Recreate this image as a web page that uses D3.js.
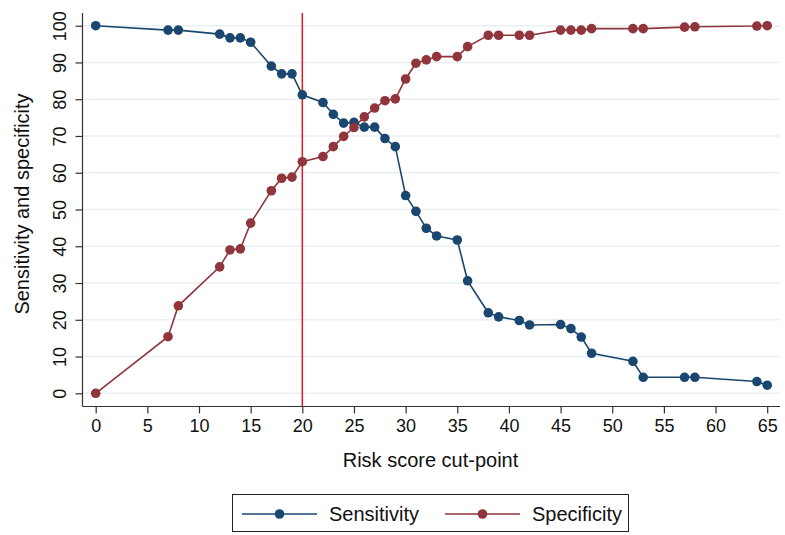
<!DOCTYPE html>
<html><head><meta charset="utf-8">
<script src="https://cdn.jsdelivr.net/npm/d3@7"></script>
<style>body{margin:0;background:#fff}svg{display:block}text{font-family:"Liberation Sans",Arial,sans-serif;fill:#111}</style>
</head><body>
<svg id="c" width="785" height="535"></svg>
<script>
const cutPoints = [0,7,8,12,13,14,15,17,18,19,20,22,23,24,25,26,27,28,29,30,31,32,33,35,36,38,39,41,42,45,46,47,48,52,53,57,58,64,65];
const sensitivity = [100,98.8,98.8,97.7,96.7,96.7,95.5,89.0,86.9,86.9,81.2,79.1,75.9,73.5,73.7,72.4,72.4,69.3,67.1,53.8,49.5,44.9,42.8,41.7,30.6,21.9,20.8,19.8,18.6,18.7,17.6,15.3,10.9,8.7,4.35,4.35,4.35,3.2,2.2];
const specificity = [0,15.4,23.8,34.4,39.0,39.3,46.3,55.1,58.5,58.8,63.0,64.4,67.1,69.9,72.3,75.2,77.6,79.6,80.1,85.5,89.8,90.7,91.6,91.6,94.3,97.4,97.4,97.4,97.4,98.8,98.8,98.8,99.2,99.2,99.2,99.6,99.7,99.9,100];
const xTicks = [0,5,10,15,20,25,30,35,40,45,50,55,60,65];
const yTicks = [0,10,20,30,40,50,60,70,80,90,100];
const cutLine = 20;
const seriesNames = ["Sensitivity","Specificity"];
const colors = ["#1a476f","#90353b"];

(function(){
const svg = d3.select("#c");
const x = d3.scaleLinear().domain([0,65]).range([95.7,767.2]);
const y = d3.scaleLinear().domain([0,100]).range([393.3,25.7]);
const pL = 82.5, pR = 780, pB = 406.5, pT = 13;
const FF = "Liberation Sans, Arial, sans-serif";

// gridlines
svg.append("g").selectAll("line").data(yTicks).join("line")
  .attr("x1",pL).attr("x2",pR).attr("y1",d=>y(d)).attr("y2",d=>y(d))
  .attr("stroke","#e8f0f2").attr("stroke-width",1.5);

// axes
const xa = svg.append("g").attr("transform",`translate(0,${pB})`)
  .call(d3.axisBottom(x).tickValues(xTicks).tickSize(7).tickSizeOuter(0));
xa.select(".domain").attr("d",`M${pL},0H${pR}`).attr("stroke","#333").attr("stroke-width",1.2);
xa.selectAll(".tick line").attr("stroke","#333").attr("stroke-width",1.2);
xa.selectAll(".tick text").attr("font-size",18).attr("font-family",FF).attr("fill","#111")
  .attr("y",25.5).attr("dy",0);

const ya = svg.append("g").attr("transform",`translate(${pL},0)`)
  .call(d3.axisLeft(y).tickValues(yTicks).tickSize(7).tickSizeOuter(0));
ya.select(".domain").attr("d",`M0,${pT}V${pB}`).attr("stroke","#333").attr("stroke-width",1.2);
ya.selectAll(".tick line").attr("stroke","#333").attr("stroke-width",1.2);
ya.selectAll(".tick text").attr("font-size",18).attr("font-family",FF).attr("fill","#111")
  .attr("x",0).attr("y",0).attr("dy",0).attr("text-anchor","middle")
  .attr("transform",`translate(${66-pL},0) rotate(-90)`);

// axis titles
svg.append("text").attr("x",430.5).attr("y",467).attr("text-anchor","middle").attr("font-size",20).text("Risk score cut-point");
svg.append("text").attr("transform",`translate(28.5,204) rotate(-90)`).attr("text-anchor","middle").attr("font-size",20).text("Sensitivity and specificity");

// series
const seriesData = [sensitivity, specificity];
const line = d3.line().x(d=>x(d[0])).y(d=>y(d[1]));
seriesData.forEach((vals,i)=>{
  const pts = cutPoints.map((c,j)=>[c,vals[j]]);
  svg.append("path").datum(pts).attr("d",line).attr("fill","none").attr("stroke",colors[i]).attr("stroke-width",1.6);
});
// red cut line
svg.append("line").attr("x1",x(cutLine)).attr("x2",x(cutLine)).attr("y1",pT).attr("y2",pB).attr("stroke","#e0162b").attr("stroke-width",1.5);
seriesData.forEach((vals,i)=>{
  const pts = cutPoints.map((c,j)=>[c,vals[j]]);
  svg.append("g").selectAll("circle").data(pts).join("circle")
    .attr("cx",d=>x(d[0])).attr("cy",d=>y(d[1])).attr("r",4.8).attr("fill",colors[i]);
});

// legend
const lg = svg.append("g");
lg.append("rect").attr("x",232.5).attr("y",494.5).attr("width",396).attr("height",37).attr("fill","#fff").attr("stroke","#222").attr("stroke-width",1);
const lx = [242,445], tx = [329,532];
seriesNames.forEach((n,i)=>{
  lg.append("line").attr("x1",lx[i]).attr("x2",lx[i]+75).attr("y1",514).attr("y2",514).attr("stroke",colors[i]).attr("stroke-width",1.6);
  lg.append("circle").attr("cx",lx[i]+37.5).attr("cy",514).attr("r",4.8).attr("fill",colors[i]);
  lg.append("text").attr("x",tx[i]).attr("y",521).attr("font-size",20).text(n);
});
})();
</script>
</body></html>
